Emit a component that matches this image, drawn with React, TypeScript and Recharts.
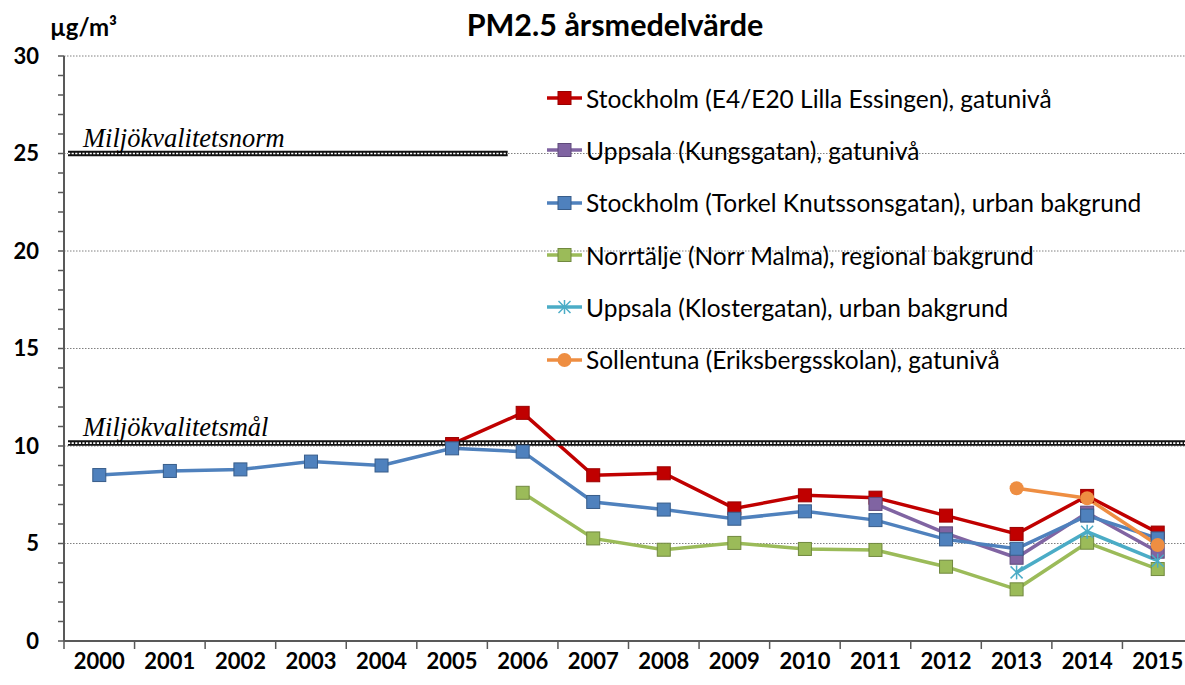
import React from 'react';
import { LineChart, Line, XAxis, YAxis, ReferenceLine, Legend } from 'recharts';

const years = ['2000', '2001', '2002', '2003', '2004', '2005', '2006', '2007', '2008', '2009', '2010', '2011', '2012', '2013', '2014', '2015'];

const stockholmE4 = [null, null, null, null, null, 10.1, 11.7, 8.5, 8.6, 6.8, 7.47, 7.35, 6.43, 5.49, 7.44, 5.56];
const uppsalaKungsgatan = [null, null, null, null, null, null, null, null, null, null, null, 7.03, 5.52, 4.27, 6.58, 4.58];
const stockholmTorkel = [8.51, 8.72, 8.8, 9.2, 9.0, 9.88, 9.71, 7.13, 6.74, 6.27, 6.65, 6.2, 5.21, 4.73, 6.43, 5.26];
const norrtalje = [null, null, null, null, null, null, 7.6, 5.26, 4.68, 5.03, 4.72, 4.67, 3.81, 2.65, 5.04, 3.69];
const uppsalaKlostergatan = [null, null, null, null, null, null, null, null, null, null, null, null, null, 3.52, 5.6, 4.12];
const sollentuna = [null, null, null, null, null, null, null, null, null, null, null, null, null, 7.83, 7.32, 4.92];

const yTicks = Array.from({ length: 31 }, (_, i) => i);
const gridValues = [5, 10, 15, 20, 25, 30];
const normValue = 25;
const malValue = 10.15;

const series = [
  { key: 's1', name: 'Stockholm (E4/E20 Lilla Essingen), gatunivå', values: stockholmE4, color: '#C00000', border: '#9a0000', marker: 'square' },
  { key: 's2', name: 'Uppsala (Kungsgatan), gatunivå', values: uppsalaKungsgatan, color: '#8064A2', border: '#5f4a7a', marker: 'square' },
  { key: 's3', name: 'Stockholm (Torkel Knutssonsgatan), urban bakgrund', values: stockholmTorkel, color: '#4F81BD', border: '#385d8a', marker: 'square' },
  { key: 's4', name: 'Norrtälje (Norr Malma), regional bakgrund', values: norrtalje, color: '#9BBB59', border: '#71893f', marker: 'square' },
  { key: 's5', name: 'Uppsala (Klostergatan), urban bakgrund', values: uppsalaKlostergatan, color: '#4BACC6', border: '#4BACC6', marker: 'star' },
  { key: 's6', name: 'Sollentuna (Eriksbergsskolan), gatunivå', values: sollentuna, color: '#EE8E42', border: '#EE8E42', marker: 'circle' },
];

const data = years.map((year, i) => {
  const row: Record<string, any> = { year };
  series.forEach((s) => { row[s.key] = s.values[i]; });
  return row;
});

const FONT = 'Lato, "Open Sans", sans-serif';
const CHART_W = 1200;
const CHART_H = 685;
const MARGIN = { top: 56, right: 7, bottom: 0, left: 0 };
const Y_W = 64;
const X_H = 44;
const BAND = (CHART_W - MARGIN.left - MARGIN.right - Y_W) / years.length;

function Marker({ kind, x, y, fill, stroke }: any) {
  if (kind === 'square') {
    return <rect x={x - 6.5} y={y - 6.5} width={13} height={13} fill={fill} stroke={stroke} strokeWidth={1} />;
  }
  if (kind === 'circle') {
    return <circle cx={x} cy={y} r={7} fill={fill} />;
  }
  return (
    <g stroke={fill} strokeWidth={1.5}>
      <line x1={x - 6} y1={y - 6} x2={x + 6} y2={y + 6} />
      <line x1={x - 6} y1={y + 6} x2={x + 6} y2={y - 6} />
      <line x1={x} y1={y - 7} x2={x} y2={y + 7} />
    </g>
  );
}

const makeDot = (s: any) => (props: any) => {
  const { cx, cy, value, index } = props;
  if (value == null || cy == null || cx == null) return <g key={`${s.key}-${index}`} />;
  return (
    <g key={`${s.key}-${index}`}>
      <Marker kind={s.marker} x={cx} y={cy} fill={s.color} stroke={s.border} />
    </g>
  );
};

const XTick = (props: any) => {
  const { x, y, payload } = props;
  return (
    <g>
      <line x1={x - BAND / 2} x2={x - BAND / 2} y1={y} y2={y + 8} stroke="#595959" strokeWidth={1.5} />
      <text x={x} y={y + 28} textAnchor="middle" fontFamily={FONT} fontWeight={700} fontSize={22} fill="#000">
        {payload.value}
      </text>
    </g>
  );
};

const hatchShape = (label: string, endFrac: number) => (props: any) => {
  const { x1, y1, x2 } = props;
  const start = x1 + 4;
  const end = x1 + (x2 - x1) * endFrac;
  return (
    <g>
      <line x1={start} x2={end} y1={y1} y2={y1} stroke="#111" strokeWidth={5.5} />
      <line x1={start} x2={end} y1={y1} y2={y1} stroke="#fff" strokeWidth={1.6} strokeDasharray="2.2 1.4" />
      <text x={x1 + 19} y={y1 - 7} fontFamily='"Liberation Serif", "DejaVu Serif", serif' fontStyle="italic" fontSize={26.5} fill="#000">
        {label}
      </text>
    </g>
  );
};

function LegendContent() {
  return (
    <div style={{ fontFamily: FONT, fontSize: 24.5, color: '#000' }}>
      {series.map((s) => (
        <div key={s.key} style={{ height: 52.3, display: 'flex', alignItems: 'center', whiteSpace: 'nowrap' }}>
          <svg width={38} height={20} style={{ marginRight: 2 }}>
            <line x1={1} x2={36} y1={10} y2={10} stroke={s.color} strokeWidth={3.5} />
            <Marker kind={s.marker} x={18.5} y={10} fill={s.color} stroke={s.border} />
          </svg>
          <span>{s.name}</span>
        </div>
      ))}
    </div>
  );
}

export default function App() {
  return (
    <div style={{ position: 'absolute', left: 0, top: 0, width: 1185, height: 685, overflow: 'hidden', background: '#fff' }}>
      <div style={{ position: 'absolute', left: 0, width: 1230, top: 6, textAlign: 'center', fontFamily: FONT, fontWeight: 700, fontSize: 30.5 }}>
        PM2.5 årsmedelvärde
      </div>
      <div style={{ position: 'absolute', left: 50, top: 12, fontFamily: FONT, fontWeight: 700, fontSize: 24 }}>
        µg/m³
      </div>
      <LineChart width={CHART_W} height={CHART_H} data={data} margin={MARGIN}>
        {gridValues.map((v) => (
          <ReferenceLine key={`g${v}`} y={v} stroke="#808080" strokeWidth={1} strokeDasharray="1.5 1.5" />
        ))}
        <XAxis
          dataKey="year"
          height={X_H}
          padding={{ left: BAND / 2, right: BAND / 2 }}
          tickLine={false}
          tickSize={0}
          tickMargin={0}
          interval={0}
          tick={<XTick />}
          axisLine={{ stroke: '#595959', strokeWidth: 2 }}
        />
        <YAxis
          width={Y_W}
          domain={[0, 30]}
          ticks={yTicks}
          interval={0}
          tickSize={6}
          tickMargin={19}
          tickFormatter={(v: number) => (v % 5 === 0 ? String(v) : '')}
          tick={{ fontFamily: FONT, fontWeight: 700, fontSize: 22, fill: '#000' }}
          tickLine={{ stroke: '#595959', strokeWidth: 1.5 }}
          axisLine={{ stroke: '#595959', strokeWidth: 2 }}
        />
        {series.map((s) => (
          <Line
            key={s.key}
            type="linear"
            dataKey={s.key}
            name={s.name}
            stroke={s.color}
            strokeWidth={3.5}
            dot={makeDot(s)}
            activeDot={false}
            isAnimationActive={false}
          />
        ))}
        <ReferenceLine y={normValue} shape={hatchShape('Miljökvalitetsnorm', 0.393)} />
        <ReferenceLine y={malValue} shape={hatchShape('Miljökvalitetsmål', 1)} />
        <Legend
          layout="vertical"
          align="center"
          verticalAlign="middle"
          wrapperStyle={{ top: 72, left: 546, width: 'auto', height: 'auto' }}
          content={() => <LegendContent />}
        />
      </LineChart>
    </div>
  );
}
